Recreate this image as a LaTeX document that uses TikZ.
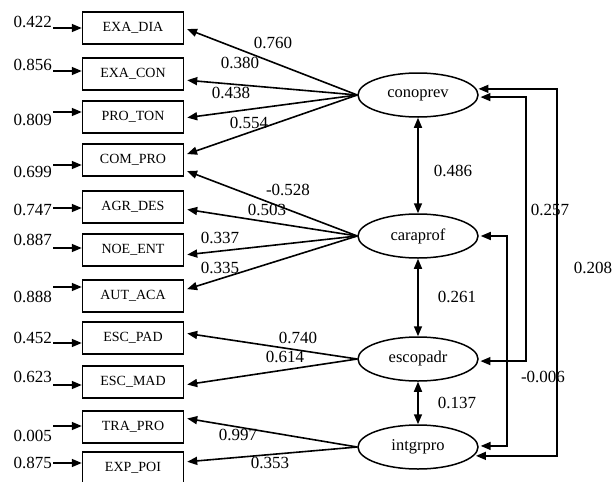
\documentclass[tikz,border=0pt]{standalone}
\usepackage{fontspec}
\setmainfont{Liberation Serif}
\usetikzlibrary{arrows.meta,positioning,shapes}

\begin{document}
\begin{tikzpicture}[x=1pt,y=-1pt,
    obs/.style={draw,line width=1.5pt,minimum width=101pt,minimum height=32pt,inner sep=0pt,font=\fontsize{14}{16}\selectfont},
    lat/.style={draw,line width=1.5pt,ellipse,minimum width=120pt,minimum height=44pt,inner sep=0pt,font=\fontsize{16.5}{18}\selectfont},
    num/.style={font=\fontsize{17}{19}\selectfont,inner sep=0pt},
    arr/.style={line width=1.6pt,-{Triangle[length=10pt,width=8pt]}},
    dbl/.style={line width=1.6pt,{Triangle[length=10pt,width=8pt]}-{Triangle[length=10pt,width=8pt]}}]

    \useasboundingbox (0,0) rectangle (616,482);

    % Observed variables and their error terms
    \foreach \nm/\txt/\y/\ay/\err/\ly in {
        exadia/EXA\_DIA/28/28/0.422/22,
        exacon/EXA\_CON/74/71/0.856/65,
        proton/PRO\_TON/117/112/0.809/120,
        compro/COM\_PRO/160/165/0.699/172,
        agrdes/AGR\_DES/207/208/0.747/210,
        noeent/NOE\_ENT/250/248/0.887/240,
        autaca/AUT\_ACA/296/287/0.888/297,
        escpad/ESC\_PAD/338/343/0.452/338,
        escmad/ESC\_MAD/382/385/0.623/377,
        trapro/TRA\_PRO/427/426/0.005/436,
        exppoi/EXP\_POI/468/463/0.875/463}
    {
        \node[obs] (\nm) at (133,\y) {\txt};
        \coordinate (\nm-e) at (53,\ay);
        \draw[arr] (\nm-e) -- (\nm-e -| \nm.west);
        \node[num,anchor=east] at (52,\ly) {\err};
    }

    % Latent variables
    \node[lat] (conoprev) at (418,95) {conoprev};
    \node[lat] (caraprof) at (418,236) {caraprof};
    \node[lat] (escopadr) at (418,359) {escopadr};
    \node[lat] (intgrpro) at (418,447) {intgrpro};

    % Loadings
    \foreach \src/\dst/\dy in {conoprev/exadia/0, conoprev/exacon/-6,
        conoprev/proton/-1, conoprev/compro/5, caraprof/compro/-10,
        caraprof/agrdes/-2, caraprof/noeent/-5, caraprof/autaca/6,
        escopadr/escpad/5, escopadr/escmad/-3, intgrpro/trapro/9,
        intgrpro/exppoi/6}
    {
        \draw[arr,shorten >=3pt] (\src.west) -- ([yshift=\dy pt]\dst.east);
    }

    \foreach \val/\x/\y in {0.760/273/43, 0.380/240/63, 0.438/231/93,
        0.554/249/123, -0.528/288/190, 0.503/267/210, 0.337/220/238,
        0.335/220/268, 0.740/298/338, 0.614/285/357, 0.997/238/435,
        0.353/270/463}
    {
        \node[num] at (\x,\y) {\val};
    }

    % Correlations between latent variables
    \draw[dbl] (conoprev) -- (caraprof);
    \draw[dbl] (caraprof) -- (escopadr);
    \draw[dbl] (escopadr) -- (intgrpro);

    \coordinate (ra) at (557,0);
    \coordinate (rb) at (526,0);
    \coordinate (rc) at (507,0);
    \draw[dbl,shorten <=2pt,shorten >=2pt] (conoprev.6) -- (conoprev.6 -| ra) |- (intgrpro.-9);
    \draw[dbl,shorten <=2pt,shorten >=2pt] (conoprev.-2) -- (conoprev.-2 -| rb) |- (escopadr.-2);
    \draw[dbl,shorten <=2pt,shorten >=2pt] (caraprof.0) -- (caraprof.0 -| rc) |- (intgrpro.1);

    \node[num] at (453,171) {0.486};
    \node[num] at (457,297) {0.261};
    \node[num] at (457,403) {0.137};
    \node[num] at (550,210) {0.257};
    \node[num] at (593,268) {0.208};
    \node[num] at (543,377) {-0.006};
\end{tikzpicture}
\end{document}
